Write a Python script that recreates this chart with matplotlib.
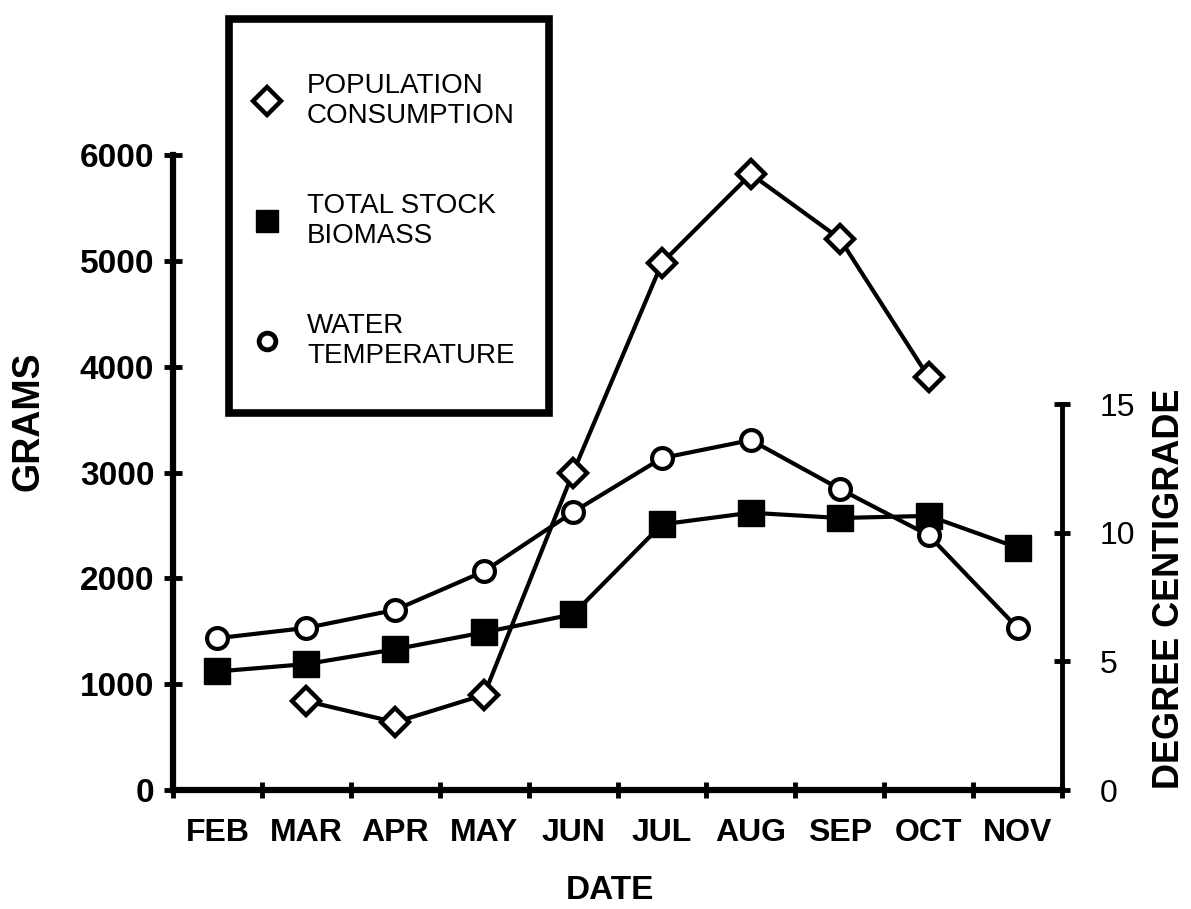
import numpy as np
import matplotlib
matplotlib.use("Agg")
import matplotlib.pyplot as plt
from matplotlib.lines import Line2D
from matplotlib.patches import Rectangle

plt.rcParams['font.family'] = ['Liberation Sans', 'DejaVu Sans']

# ---------------- data ----------------
months = ["FEB", "MAR", "APR", "MAY", "JUN", "JUL", "AUG", "SEP", "OCT", "NOV"]
consumption = [np.nan, 840, 640, 900, 3000, 4980, 5820, 5210, 3900, np.nan]   # grams
biomass = [1120, 1190, 1330, 1490, 1660, 2510, 2620, 2570, 2590, 2290]        # grams
temperature = [5.9, 6.3, 7.0, 8.5, 10.8, 12.9, 13.6, 11.7, 9.9, 6.3]          # deg C
left_ticks = [0, 1000, 2000, 3000, 4000, 5000, 6000]
right_ticks = [0, 5, 10, 15]
legend_labels = ["POPULATION\nCONSUMPTION", "TOTAL STOCK\nBIOMASS", "WATER\nTEMPERATURE"]

W, H = 1191, 909
fig = plt.figure(figsize=(W / 100, H / 100), dpi=100)
ax = fig.add_axes([173 / W, 1 - 790 / H, 889 / W, 635 / H])
ax2 = ax.twinx()

x = np.arange(len(months)) + 0.5

# lines
ax.plot(x, biomass, color='black', lw=3, marker='s', ms=19, mfc='black',
        mec='black', mew=1, zorder=3, clip_on=False)
ax.plot(x, consumption, color='black', lw=3, marker='D', ms=14, mfc='white',
        mec='black', mew=3.2, zorder=4, clip_on=False)
ax2.plot(x, temperature, color='black', lw=3, marker='o', ms=15, mfc='white',
         mec='black', mew=3, zorder=3, clip_on=False)

# ---- left / bottom axis ----
ax.set_xlim(0, len(months))
ax.set_ylim(0, 6000)
for s in ['top', 'right']:
    ax.spines[s].set_visible(False)
ax.spines['left'].set_linewidth(4.5)
ax.spines['bottom'].set_linewidth(4.5)
ax.set_yticks(left_ticks)
ax.set_yticklabels([str(v) for v in left_ticks], fontsize=24, fontweight='bold')
ax.tick_params(axis='y', direction='inout', length=13, width=3.5, pad=7)
ax.set_xticks(np.arange(0, len(months) + 1))
ax.set_xticklabels([])
ax.tick_params(axis='x', which='major', direction='inout', length=12, width=3.5)
ax.set_xticks(x, minor=True)
ax.set_xticklabels(months, minor=True, fontsize=23, fontweight='bold')
ax.tick_params(axis='x', which='minor', length=0, pad=20)

ax.set_ylabel("GRAMS", fontsize=27, fontweight='bold')
ax.yaxis.label.set(ha='center', va='center', rotation_mode='default')
ax.yaxis.set_label_coords(-0.1631, 0.5811)
ax.set_xlabel("DATE", fontsize=24, fontweight='bold')
ax.xaxis.label.set(ha='center', va='center')
ax.xaxis.set_label_coords(0.4916, -0.1575)

# ---- right axis (temperature) ----
ax2.set_ylim(0, 635 / 25.73)
for s in ['top', 'left', 'bottom']:
    ax2.spines[s].set_visible(False)
ax2.spines['right'].set_linewidth(3.5)
ax2.spines['right'].set_bounds(0, 15)
ax2.set_yticks(right_ticks)
ax2.set_yticklabels([str(v) for v in right_ticks], fontsize=23)
ax2.tick_params(axis='y', direction='inout', length=12, width=3.5, pad=21)
ax2.set_ylabel("DEGREE CENTIGRADE", fontsize=26, fontweight='bold')
ax2.yaxis.label.set(ha='center', va='center', rotation_mode='default', rotation=90)
ax2.yaxis.set_label_coords((1170 - 173) / 889, 0.3165)

# ---- legend ----
handles = [
    Line2D([], [], ls='none', marker='D', ms=14, mfc='white', mec='black', mew=3.2),
    Line2D([], [], ls='none', marker='s', ms=16, mfc='black', mec='black', mew=1),
    Line2D([], [], ls='none', marker='o', ms=12, mfc='white', mec='black', mew=3.5),
]
leg = fig.legend(handles, legend_labels, loc='upper left',
                 bbox_to_anchor=(253 / W, 1 - 73 / H), frameon=False,
                 fontsize=20, borderpad=0, handlelength=1.0,
                 handletextpad=0.94, labelspacing=2.3, borderaxespad=0)
box = Rectangle((229 / W, 1 - 413 / H), (549 - 229) / W, (413 - 19) / H,
                transform=fig.transFigure, fill=False, lw=5.5, ec='black')
fig.patches.append(box)

fig.savefig("out.png", dpi=100, facecolor='white')
